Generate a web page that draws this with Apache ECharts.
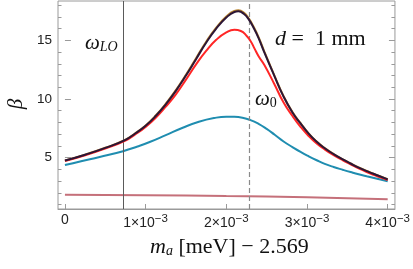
<!DOCTYPE html>
<html><head><meta charset="utf-8">
<script src="https://cdn.jsdelivr.net/npm/echarts@6/dist/echarts.min.js"></script>
<style>html,body{margin:0;padding:0;background:#fff}#c{width:413px;height:269px}</style>
</head><body><div id="c"></div>
<script>
// x values in units of 1e-3 (m_a [meV] - 2.569)
const blackX = [0, 0.25, 0.5, 0.75, 0.875, 1.0, 1.125, 1.25, 1.375, 1.5, 1.625, 1.75, 1.875, 2.0, 2.1, 2.15, 2.22, 2.28, 2.34, 2.4, 2.47, 2.59, 2.71, 2.82, 2.92, 3.02, 3.12, 3.22, 3.33, 3.45, 3.54, 3.64, 3.75, 3.87, 4.0];
const blackY = [4.75, 5.25, 5.83, 6.52, 7.08, 7.72, 8.55, 9.55, 10.7, 12.0, 13.4, 14.8, 16.0, 16.95, 17.42, 17.48, 17.25, 16.77, 16.06, 15.2, 14.0, 12.06, 10.2, 8.85, 7.92, 7.05, 6.35, 5.8, 5.3, 4.83, 4.5, 4.15, 3.83, 3.5, 3.15];
const orangeY = [4.76, 5.26, 5.84, 6.54, 7.1, 7.75, 8.59, 9.6, 10.76, 12.07, 13.48, 14.88, 16.09, 17.04, 17.52, 17.58, 17.35, 16.86, 16.14, 15.28, 14.07, 12.11, 10.24, 8.88, 7.95, 7.07, 6.37, 5.81, 5.31, 4.84, 4.51, 4.16, 3.84, 3.51, 3.16];
const redX = [0, 0.25, 0.5, 0.75, 0.875, 1.0, 1.125, 1.25, 1.375, 1.5, 1.625, 1.75, 1.875, 2.0, 2.1, 2.18, 2.25, 2.3, 2.35, 2.4, 2.47, 2.59, 2.71, 2.82, 2.92, 3.02, 3.12, 3.22, 3.33, 3.45, 3.54, 3.64, 3.74, 3.85, 3.95, 4.0];
const redY = [4.71, 5.2, 5.78, 6.45, 7.0, 7.62, 8.4, 9.35, 10.4, 11.65, 12.95, 14.1, 15.05, 15.68, 15.9, 15.8, 15.4, 14.95, 14.3, 13.65, 12.92, 11.35, 9.7, 8.55, 7.63, 6.85, 6.21, 5.7, 5.21, 4.75, 4.43, 4.08, 3.77, 3.47, 3.21, 3.1];
const tealX = [0, 0.2, 0.43, 0.72, 0.9, 1.05, 1.25, 1.46, 1.66, 1.85, 2.0, 2.1, 2.2, 2.3, 2.4, 2.5, 2.6, 2.71, 2.82, 2.92, 3.02, 3.12, 3.22, 3.33, 3.45, 3.54, 3.64, 3.74, 3.87, 4.0];
const tealY = [4.37, 4.7, 5.06, 5.55, 5.95, 6.33, 6.92, 7.55, 8.06, 8.38, 8.49, 8.48, 8.4, 8.2, 7.88, 7.45, 6.95, 6.38, 5.9, 5.49, 5.12, 4.78, 4.47, 4.2, 3.95, 3.77, 3.58, 3.41, 3.2, 2.98];
const pinkX = [0, 1, 2, 3, 4];
const pinkY = [1.83, 1.8, 1.72, 1.62, 1.45];
const omegaLO = 0.716;
const omega0 = 2.28;
const xTicks = [0, 1, 2, 3, 4];
const xTickMantissa = ['0', '1', '2', '3', '4'];
const yTicks = [5, 10, 15];
const yMinor = [1,2,3,4,6,7,8,9,11,12,13,14,16,17,18];

const pairs = (xs, ys) => xs.map((x, i) => [x, ys[i]]);
const chart = echarts.init(document.getElementById('c'));
const serif = '"Liberation Serif","DejaVu Serif",serif';
const sans = '"Liberation Sans","DejaVu Sans",Arial,sans-serif';
const frame = '#9a9a9a';
const yBase = {type:'value', min:0.62, max:18.36, splitLine:{show:false}, axisLine:{show:false}};
chart.setOption({
  animation:false,
  grid:{left:58, top:1, width:339, height:208, show:true, borderColor:frame, borderWidth:1},
  xAxis:[{type:'value', min:-0.086, max:4.09, splitLine:{show:false},
    axisLine:{show:true, onZero:false, lineStyle:{color:frame}},
    axisTick:{inside:true, length:5, lineStyle:{color:frame}, customValues:xTicks},
    axisLabel:{customValues:xTicks, margin:4, color:'#222', fontFamily:sans, fontSize:14,
      formatter:v => { const m = xTickMantissa[xTicks.indexOf(Math.round(v))]; return m === '0' ? '{b|0}' : '{b|' + m + '×10}{s|−3}'; },
      rich:{b:{fontSize:14, fontFamily:sans, color:'#222'}, s:{fontSize:11.5, fontFamily:sans, color:'#222', padding:[0,0,8,0]}}}}],
  yAxis:[
    Object.assign({}, yBase, {axisTick:{inside:true, length:6, lineStyle:{color:frame}, customValues:yTicks},
      axisLabel:{customValues:yTicks, margin:6, color:'#222', fontFamily:sans, fontSize:13.5}}),
    Object.assign({}, yBase, {position:'left', axisTick:{inside:true, length:3.5, lineStyle:{color:frame}, customValues:yMinor}, axisLabel:{show:false}}),
    Object.assign({}, yBase, {position:'right', axisTick:{inside:true, length:6, lineStyle:{color:frame}, customValues:yTicks}, axisLabel:{show:false}}),
    Object.assign({}, yBase, {position:'right', axisTick:{inside:true, length:3.5, lineStyle:{color:frame}, customValues:yMinor}, axisLabel:{show:false}})
  ],
  series:[
    {type:'line', data:pairs(pinkX, pinkY), smooth:true, showSymbol:false, lineStyle:{color:'#c5707a', width:2}, z:2},
    {type:'line', data:pairs(tealX, tealY), smooth:true, showSymbol:false, lineStyle:{color:'#1f8db0', width:2}, z:3,
      markLine:{silent:true, symbol:'none', label:{show:false}, data:[
        {xAxis:omegaLO, lineStyle:{color:'#5a5a5a', width:1, type:'solid'}},
        {xAxis:omega0, lineStyle:{color:'#8a8a8a', width:1.2, type:[5,3]}}]}},
    {type:'line', data:pairs(blackX, orangeY), smooth:true, showSymbol:false, lineStyle:{color:'#b8842f', width:2}, z:4},
    {type:'line', data:pairs(redX, redY), smooth:true, showSymbol:false, lineStyle:{color:'#ff2626', width:2}, z:5},
    {type:'line', data:pairs(blackX, blackY), smooth:true, showSymbol:false, lineStyle:{color:'#2c1636', width:2}, z:6}
  ],
  graphic:[
    {type:'text', left:85, top:33, style:{text:'{w|ω}{s|LO}', rich:{w:{fontFamily:serif, fontStyle:'italic', fontSize:21, fill:'#111'}, s:{fontFamily:serif, fontStyle:'italic', fontSize:14, fill:'#111', padding:[8,0,0,0]}}}},
    {type:'text', left:255, top:89, style:{text:'{w|ω}{s|0}', rich:{w:{fontFamily:serif, fontStyle:'italic', fontSize:21, fill:'#111'}, s:{fontFamily:serif, fontSize:14, fill:'#111', padding:[8,0,0,0]}}}},
    {type:'text', left:275, top:28, style:{text:'{i|d}{r| =  1 mm}', rich:{i:{fontFamily:serif, fontStyle:'italic', fontSize:22, fill:'#111'}, r:{fontFamily:serif, fontSize:22, fill:'#111'}}}},
    {type:'text', left:150, top:236, style:{text:'{i|m}{s|a}{r| [meV] − 2.569}', rich:{i:{fontFamily:serif, fontStyle:'italic', fontSize:22, fill:'#111'}, s:{fontFamily:serif, fontStyle:'italic', fontSize:14, fill:'#111', padding:[9,0,0,0]}, r:{fontFamily:serif, fontSize:22, fill:'#111'}}}},
    {type:'text', x:16, y:104, rotation:Math.PI/2, style:{text:'β', fontFamily:serif, fontStyle:'italic', fontSize:21, fill:'#111', align:'center', verticalAlign:'middle'}}
  ]
});
</script></body></html>
